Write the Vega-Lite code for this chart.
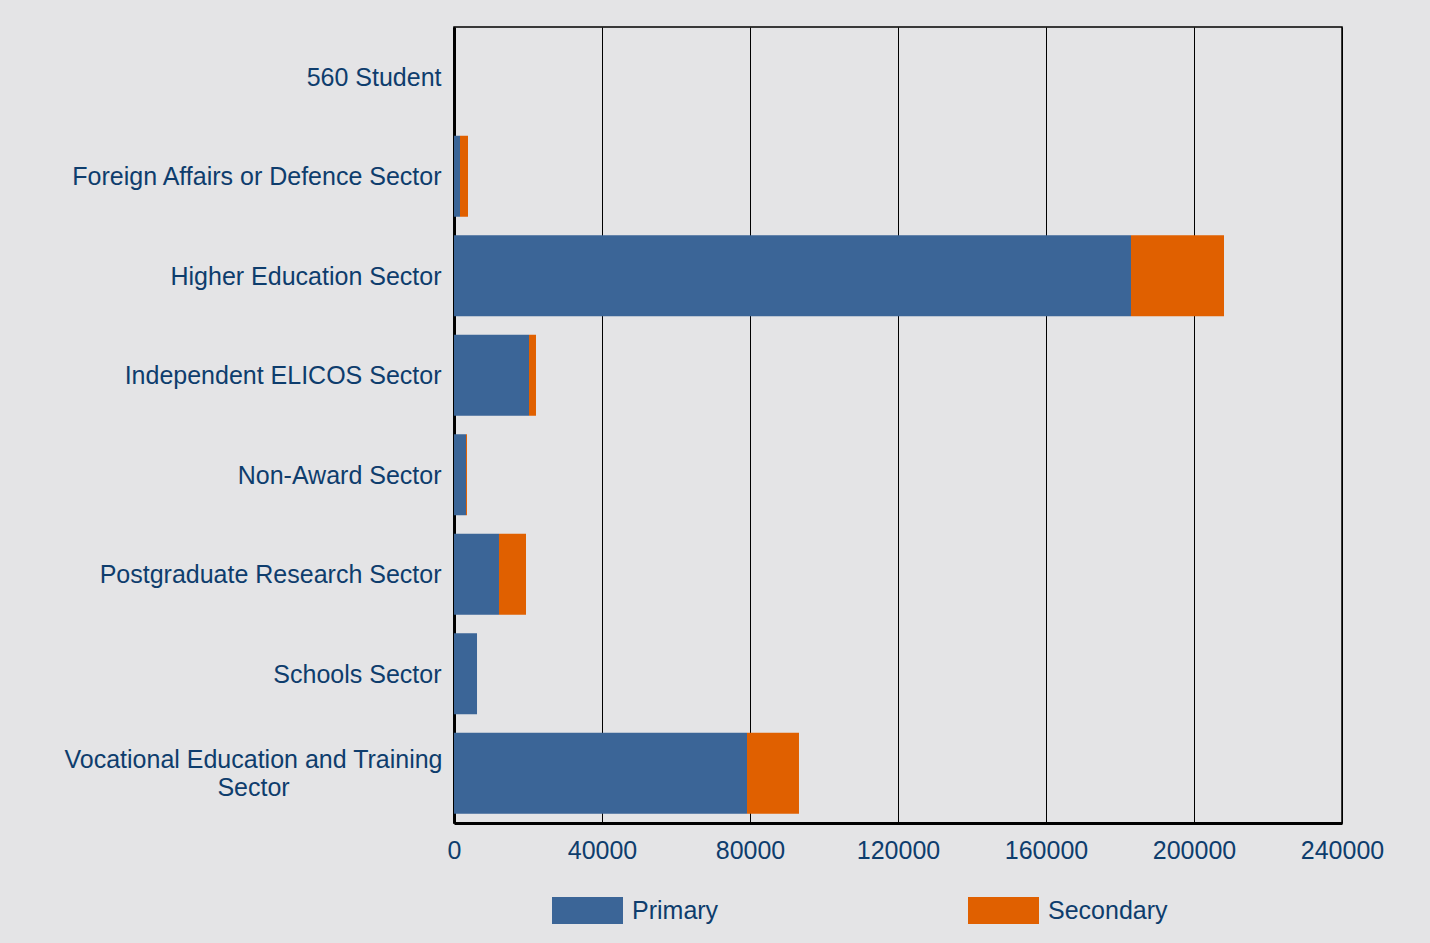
{
  "$schema": "https://vega.github.io/schema/vega-lite/v6.json",
  "autosize": {"type": "none"},
  "padding": {"left": 454, "top": 27, "right": 88, "bottom": 120},
  "width": 888,
  "height": 796,
  "background": "#e4e4e6",
  "data": {
    "values": [
      {"sector": "560 Student", "type": "Primary", "value": 0},
      {"sector": "560 Student", "type": "Secondary", "value": 0},
      {"sector": "Foreign Affairs or Defence Sector", "type": "Primary", "value": 1620},
      {"sector": "Foreign Affairs or Defence Sector", "type": "Secondary", "value": 2160},
      {"sector": "Higher Education Sector", "type": "Primary", "value": 182970},
      {"sector": "Higher Education Sector", "type": "Secondary", "value": 25140},
      {"sector": "Independent ELICOS Sector", "type": "Primary", "value": 20270},
      {"sector": "Independent ELICOS Sector", "type": "Secondary", "value": 1890},
      {"sector": "Non-Award Sector", "type": "Primary", "value": 3240},
      {"sector": "Non-Award Sector", "type": "Secondary", "value": 270},
      {"sector": "Postgraduate Research Sector", "type": "Primary", "value": 12160},
      {"sector": "Postgraduate Research Sector", "type": "Secondary", "value": 7300},
      {"sector": "Schools Sector", "type": "Primary", "value": 6220},
      {"sector": "Schools Sector", "type": "Secondary", "value": 0},
      {"sector": "Vocational Education and Training Sector", "type": "Primary", "value": 79190},
      {"sector": "Vocational Education and Training Sector", "type": "Secondary", "value": 14050}
    ]
  },
  "mark": {"type": "bar"},
  "encoding": {
    "y": {
      "field": "sector",
      "type": "nominal",
      "sort": ["560 Student", "Foreign Affairs or Defence Sector", "Higher Education Sector", "Independent ELICOS Sector", "Non-Award Sector", "Postgraduate Research Sector", "Schools Sector", "Vocational Education and Training Sector"],
      "scale": {"paddingInner": 0.186, "paddingOuter": 0.093},
      "axis": {
        "title": null,
        "ticks": false,
        "grid": false,
        "domain": true,
        "domainColor": "#000000",
        "domainWidth": 3,
        "labelFont": "Liberation Sans",
        "labelFontSize": 25,
        "labelColor": "#0e3d6d",
        "labelLimit": 0,
        "labelLineHeight": 28,
        "labelOffset": {"condition": {"test": "datum.value === 'Vocational Education and Training Sector'", "value": -13}, "value": 1},
        "labelPadding": {"condition": {"test": "datum.value === 'Vocational Education and Training Sector'", "value": 201}, "value": 13},
        "labelAlign": {"condition": {"test": "datum.value === 'Vocational Education and Training Sector'", "value": "center"}, "value": "right"},
        "labelExpr": "datum.value === 'Vocational Education and Training Sector' ? ['Vocational Education and Training', 'Sector'] : datum.label"
      }
    },
    "x": {
      "field": "value",
      "type": "quantitative",
      "stack": "zero",
      "scale": {"domain": [0, 240000], "nice": false},
      "axis": {
        "title": null,
        "values": [0, 40000, 80000, 120000, 160000, 200000, 240000],
        "format": "d",
        "ticks": false,
        "grid": true,
        "gridColor": "#000000",
        "gridWidth": 1,
        "gridOpacity": 1,
        "domain": true,
        "domainColor": "#000000",
        "domainWidth": 3,
        "labelFont": "Liberation Sans",
        "labelFontSize": 25,
        "labelColor": "#0e3d6d",
        "labelPadding": 15,
        "labelFlush": false,
        "labelOverlap": false
      }
    },
    "color": {
      "field": "type",
      "type": "nominal",
      "scale": {"domain": ["Primary", "Secondary"], "range": ["#3b6597", "#e06000"]},
      "legend": {
        "title": null,
        "orient": "none",
        "direction": "horizontal",
        "legendX": 98,
        "legendY": 848,
        "columns": 2,
        "columnPadding": 249,
        "symbolType": "M-1,-0.38L1,-0.38L1,0.38L-1,0.38Z",
        "symbolSize": 5041,
        "symbolStrokeWidth": 0,
        "symbolOpacity": 1,
        "labelFont": "Liberation Sans",
        "labelFontSize": 25,
        "labelColor": "#0e3d6d",
        "labelOffset": 9,
        "labelLimit": 0
      }
    }
  },
  "config": {
    "view": {"stroke": "#000000", "strokeWidth": 1.5, "fill": "#e4e4e6"},
    "axis": {"gridCap": "butt"}
  }
}
